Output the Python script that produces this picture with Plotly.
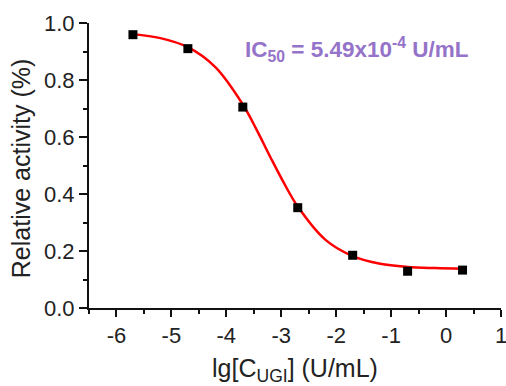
import plotly.graph_objects as go

# measured points
log_conc = [-5.7, -4.7, -3.7, -2.7, -1.7, -0.7, 0.3]
activity = [0.959, 0.910, 0.705, 0.352, 0.185, 0.129, 0.133]

# fitted curve
fit_x = [-5.7, -5.2, -4.7, -4.2, -3.7, -3.45, -3.2, -2.95, -2.7, -2.2, -1.7, -1.2, -0.7, -0.2, 0.3]
fit_y = [0.961, 0.947, 0.915, 0.845, 0.714, 0.626, 0.530, 0.438, 0.356, 0.240, 0.182, 0.155, 0.144, 0.140, 0.138]

x_ticks = [-6, -5, -4, -3, -2, -1, 0, 1]
y_ticks = [0.0, 0.2, 0.4, 0.6, 0.8, 1.0]

fig = go.Figure()
fig.add_trace(go.Scatter(x=fit_x, y=fit_y, mode="lines", line=dict(color="#ff0000", width=2.5, shape="spline", smoothing=1.0),
                         showlegend=False, hoverinfo="skip"))
fig.add_trace(go.Scatter(x=log_conc, y=activity, mode="markers",
                         marker=dict(symbol="square", size=9, color="black"), showlegend=False))

font = "Arial, Liberation Sans, sans-serif"
fig.update_layout(
    width=506, height=386,
    margin=dict(l=89, r=5, t=23, b=78),
    plot_bgcolor="white", paper_bgcolor="white",
    font=dict(family=font, size=22, color="#222"),
    xaxis=dict(range=[-6.5, 1], tickvals=x_ticks, ticktext=[str(v) for v in x_ticks],
               showgrid=False, zeroline=False, showline=True, linecolor="#111", linewidth=2,
               ticks="outside", ticklen=7, tickwidth=2, tickcolor="#111",
               minor=dict(dtick=0.5, tick0=0, ticks="outside", ticklen=4, tickwidth=2, tickcolor="#111"),
               title=dict(text="lg[C<sub>UGI</sub>] (U/mL)", font=dict(size=25)),
               tickfont=dict(size=22), ticklabeloverflow="allow", automargin=False),
    yaxis=dict(range=[0, 1.0], tickvals=y_ticks, ticktext=[f"{v:.1f}" for v in y_ticks],
               showgrid=False, zeroline=False, showline=True, linecolor="#111", linewidth=2,
               ticks="outside", ticklen=8, tickwidth=2, tickcolor="#111",
               minor=dict(dtick=0.1, tick0=0, ticks="outside", ticklen=4, tickwidth=2, tickcolor="#111"),
               tickfont=dict(size=22), automargin=False),
    annotations=[
        dict(xref="paper", yref="paper", x=0.374, y=0.906, xanchor="left", yanchor="middle",
             text="<b>IC<sub>50</sub> = 5.49x10<sup>-4</sup> U/mL</b>", showarrow=False,
             font=dict(family=font, size=22.5, color="#9473c9")),
        dict(xref="paper", yref="paper", x=-0.163, y=0.49, xanchor="center", yanchor="middle",
             text="Relative activity (%)", textangle=-90, showarrow=False,
             font=dict(family=font, size=25, color="#222")),
    ],
)

fig.write_html("out.html")
